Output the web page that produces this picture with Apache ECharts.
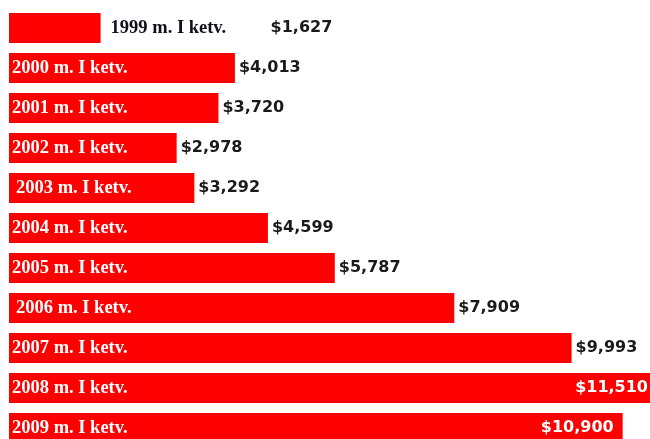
<!DOCTYPE html>
<html>
<head>
<meta charset="utf-8">
<style>
  html, body { margin: 0; padding: 0; background: #ffffff; }
  #chart { width: 650px; height: 439px; }
</style>
<script src="https://cdn.jsdelivr.net/npm/echarts@6/dist/echarts.min.js"></script>
</head>
<body>
<div id="chart"></div>
<script>
// Quarterly figures, first quarter of each year
const categories = [
  '1999 m. I ketv.', '2000 m. I ketv.', '2001 m. I ketv.', '2002 m. I ketv.',
  '2003 m. I ketv.', '2004 m. I ketv.', '2005 m. I ketv.', '2006 m. I ketv.',
  '2007 m. I ketv.', '2008 m. I ketv.', '2009 m. I ketv.'
];
const values = [1627, 4013, 3720, 2978, 3292, 4599, 5787, 7909, 9993, 11510, 10900];

const SERIF = '"Liberation Serif", "Times New Roman", serif';
const SANS = '"DejaVu Sans", Verdana, sans-serif';
const money = v => '$' + v.toLocaleString('en-US');

// labels of these rows sit a little further in from the bar start
const indented = new Set(['2003 m. I ketv.', '2006 m. I ketv.']);

const valueFont = { fontFamily: SANS, fontWeight: 'bold', fontSize: 16 };
const catFont = { fontFamily: SERIF, fontWeight: 'bold', fontSize: 18.5 };

// main bars carry the dollar amounts
const mainData = values.map((v, i) => {
  const name = categories[i];
  if (v < 2000) {
    // short bar: name and amount both follow the bar end
    return {
      value: v,
      label: {
        show: true, position: 'right', distance: 10,
        formatter: '{cat|' + name + '}{val|' + money(v) + '}',
        rich: {
          cat: Object.assign({ color: '#10101c', width: 160 }, catFont),
          val: Object.assign({ color: '#1a1a1a' }, valueFont)
        }
      }
    };
  }
  if (v > 10000) {
    return {
      value: v,
      label: Object.assign({
        show: true, position: 'insideRight', distance: 9,
        color: '#ffffff', formatter: money(v)
      }, valueFont)
    };
  }
  return {
    value: v,
    label: Object.assign({
      show: true, position: 'right', distance: 4,
      color: '#1a1a1a', formatter: money(v)
    }, valueFont)
  };
});

// transparent twin bars carry the row names inside the red bars
const nameData = values.map((v, i) => {
  const name = categories[i];
  return {
    value: v,
    label: Object.assign({
      show: v >= 2000, position: 'insideLeft',
      distance: indented.has(name) ? 7 : 3,
      color: '#ffffff', formatter: name
    }, catFont)
  };
});

const chart = echarts.init(document.getElementById('chart'), null, { renderer: 'canvas' });
chart.setOption({
  backgroundColor: '#ffffff',
  animation: false,
  grid: {
    left: 9, top: 8, width: 648, height: 440,
    containLabel: false, outerBoundsMode: 'none'
  },
  xAxis: { type: 'value', min: 0, max: 11510, show: false },
  yAxis: { type: 'category', data: categories, inverse: true, show: false },
  series: [
    {
      type: 'bar', data: mainData, barWidth: 30, barGap: '-100%',
      itemStyle: { color: '#ff0000' }, clip: false, silent: true, z: 2
    },
    {
      type: 'bar', data: nameData, barWidth: 30, barGap: '-100%',
      itemStyle: { color: 'rgba(0,0,0,0)' }, clip: false, silent: true, z: 3
    }
  ]
});
</script>
</body>
</html>
